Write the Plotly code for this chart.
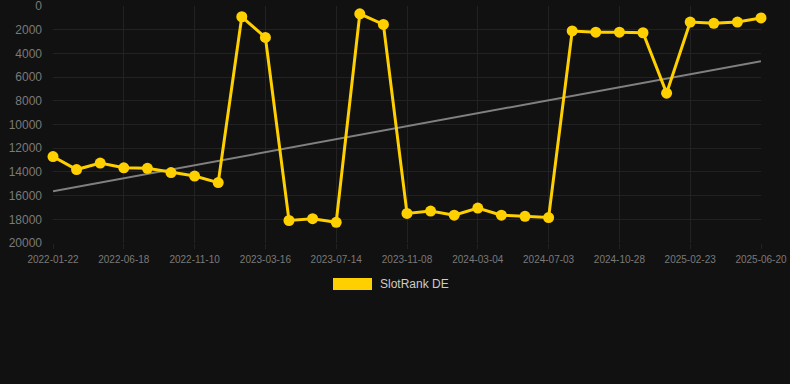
import numpy as np
import plotly.graph_objects as go

dates = [
    "2022-01-22", "2022-03-10", "2022-05-01", "2022-06-18", "2022-08-05", "2022-09-22",
    "2022-11-10", "2022-12-22", "2023-02-02", "2023-03-16", "2023-04-25", "2023-06-04",
    "2023-07-14", "2023-08-22", "2023-09-30", "2023-11-08", "2023-12-17", "2024-01-25",
    "2024-03-04", "2024-04-14", "2024-05-24", "2024-07-03", "2024-08-10", "2024-09-19",
    "2024-10-28", "2024-12-06", "2025-01-14", "2025-02-23", "2025-04-03", "2025-05-12",
    "2025-06-20",
]
rank_de = [
    12700, 13800, 13250, 13650, 13700, 14050, 14350, 14900, 900, 2650,
    18100, 17950, 18250, 650, 1550, 17500, 17300, 17650, 17050, 17650,
    17750, 17850, 2100, 2200, 2200, 2250, 7350, 1350, 1450, 1350, 1000,
]
tick_labels = dates[::3]
series_name = "SlotRank DE"

idx = np.arange(len(rank_de))
slope, intercept = np.polyfit(idx, rank_de, 1)
trend = [slope * idx[0] + intercept, slope * idx[-1] + intercept]

BG = "#111111"
GRID = "#222222"
TICK = "#7a7a7a"
GOLD = "#FFD000"

L, R, T, B = 53, 29, 6, 141
PW, PH = 790 - L - R, 384 - T - B

fig = go.Figure()
fig.add_trace(go.Scatter(
    x=[dates[0], dates[-1]], y=trend, mode="lines",
    line=dict(color="#808080", width=2), showlegend=False, hoverinfo="skip",
))
fig.add_trace(go.Scatter(
    x=dates, y=rank_de, mode="lines+markers", name=series_name,
    line=dict(color=GOLD, width=3),
    marker=dict(color=GOLD, size=11),
    cliponaxis=False, showlegend=False,
))

fig.update_layout(
    width=790, height=384,
    paper_bgcolor=BG, plot_bgcolor=BG,
    margin=dict(l=L, r=R, t=T, b=B, autoexpand=False),
    font=dict(family="Liberation Sans, Arial, sans-serif"),
    showlegend=False,
    xaxis=dict(
        type="category", categoryorder="array", categoryarray=dates,
        range=[0, len(dates) - 1], automargin=False,
        tickmode="array", tickvals=tick_labels, ticktext=tick_labels,
        tickangle=0,
        tickfont=dict(size=10, color=TICK),
        showgrid=True, gridcolor=GRID, gridwidth=1,
        ticks="outside", ticklen=5, tickcolor=GRID,
        showline=False, zeroline=False,
        ticklabeloverflow="allow", ticklabelstandoff=2,
    ),
    yaxis=dict(
        range=[20000, -8], tickmode="array", automargin=False,
        tickvals=list(range(0, 20001, 2000)), tickformat="d",
        tickfont=dict(size=12, color=TICK),
        showgrid=True, gridcolor=GRID, gridwidth=1,
        zeroline=False, showline=False,
        ticks="", ticklabelstandoff=10,
        ticklabeloverflow="allow",
    ),
)

# legend swatch and label
fig.add_shape(type="rect", xref="paper", yref="paper",
              x0=(333 - L) / PW, x1=(372 - L) / PW,
              y0=(243 - 290) / PH, y1=(243 - 278) / PH,
              fillcolor=GOLD, line=dict(width=0))
fig.add_annotation(xref="paper", yref="paper",
                   x=(378 - L) / PW, y=(243 - 284) / PH,
                   xanchor="left", yanchor="middle", showarrow=False,
                   text=series_name, font=dict(size=12, color="#cccccc"))

fig.write_html("out.html", config={"displayModeBar": False},
               post_script="document.body.style.margin='0';document.body.style.background='#111111';")
